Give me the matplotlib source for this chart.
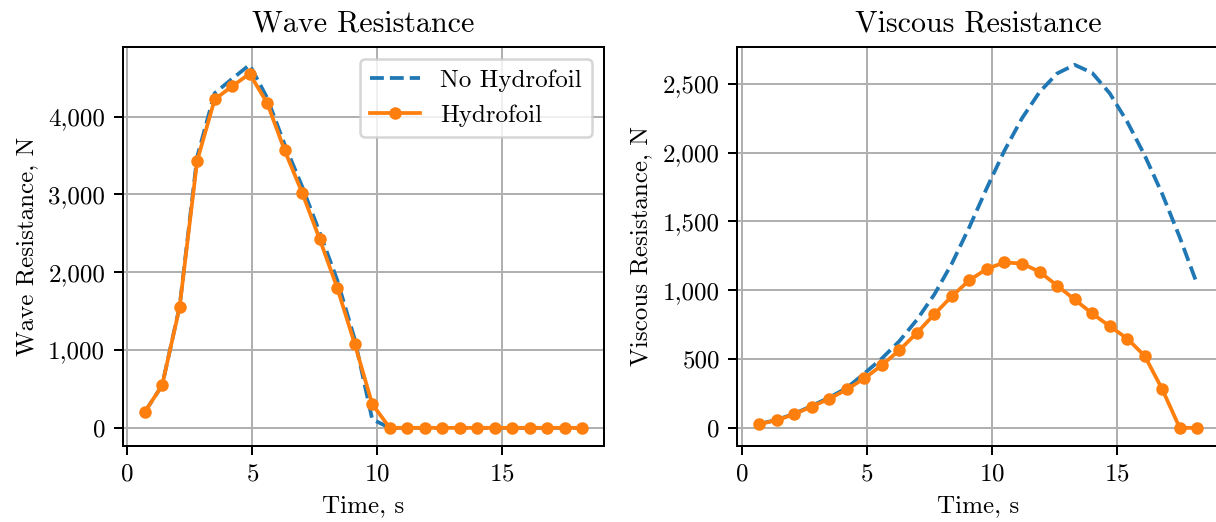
import matplotlib
matplotlib.use("Agg")
import matplotlib.pyplot as plt
from matplotlib.ticker import StrMethodFormatter, MultipleLocator

# Computer Modern look without LaTeX
plt.rcParams['font.family'] = 'serif'
plt.rcParams['font.serif'] = ['cmr10']
plt.rcParams['mathtext.fontset'] = 'cm'
plt.rcParams['axes.formatter.use_mathtext'] = True
plt.rcParams['axes.unicode_minus'] = False

# Data
time_s = [0.7, 1.4, 2.1, 2.8, 3.5, 4.2, 4.9, 5.6, 6.3, 7.0, 7.7, 8.4, 9.1,
          9.8, 10.5, 11.2, 11.9, 12.6, 13.3, 14.0, 14.7, 15.4, 16.1, 16.8,
          17.5, 18.2]

wave_no_foil = [200, 545, 1560, 3480, 4300, 4485, 4665, 4240, 3640, 3100,
                2510, 1900, 1140, 110, 0, 0, 0, 0, 0, 0, 0, 0, 0, 0, 0, 0]
wave_foil = [200, 545, 1550, 3430, 4220, 4390, 4550, 4175, 3565, 3020,
             2425, 1800, 1080, 305, 0, 0, 0, 0, 0, 0, 0, 0, 0, 0, 0, 0]

visc_no_foil = [28, 58, 102, 160, 220, 290, 395, 504, 630, 785, 970, 1195,
                1460, 1745, 2015, 2250, 2440, 2575, 2638, 2580, 2432, 2225,
                1980, 1700, 1385, 1042]
visc_foil = [27, 56, 99, 155, 211, 279, 359, 455, 564, 690, 826, 957, 1073,
             1156, 1202, 1194, 1134, 1034, 933, 831, 739, 649, 523, 281, 0, 0]

fig = plt.figure(figsize=(1216 / 180, 522 / 180), dpi=180)
ax1 = fig.add_axes([0.1009, 0.1456, 0.396, 0.765])
ax2 = fig.add_axes([0.6063, 0.1456, 0.3963, 0.765])

# Wave resistance
ax1.plot(time_s, wave_no_foil, '--', color='tab:blue', label='No Hydrofoil')
ax1.plot(time_s, wave_foil, '-o', color='tab:orange', markersize=4,
         label='Hydrofoil')
ax1.set_title('Wave Resistance')
ax1.set_xlabel('Time, s')
ax1.set_ylabel('Wave Resistance, N')
ax1.yaxis.set_major_locator(MultipleLocator(1000))
ax1.xaxis.set_major_locator(MultipleLocator(5))
ax1.yaxis.set_major_formatter(StrMethodFormatter('{x:,.0f}'))
ax1.grid(True)
ax1.legend(loc='upper right')

# Viscous resistance
ax2.plot(time_s, visc_no_foil, '--', color='tab:blue', label='No Hydrofoil')
ax2.plot(time_s, visc_foil, '-o', color='tab:orange', markersize=4,
         label='Hydrofoil')
ax2.set_title('Viscous Resistance')
ax2.set_xlabel('Time, s')
ax2.set_ylabel('Viscous Resistance, N')
ax2.yaxis.set_major_locator(MultipleLocator(500))
ax2.xaxis.set_major_locator(MultipleLocator(5))
ax2.yaxis.set_major_formatter(StrMethodFormatter('{x:,.0f}'))
ax2.grid(True)

fig.savefig('out.png', dpi=180)
